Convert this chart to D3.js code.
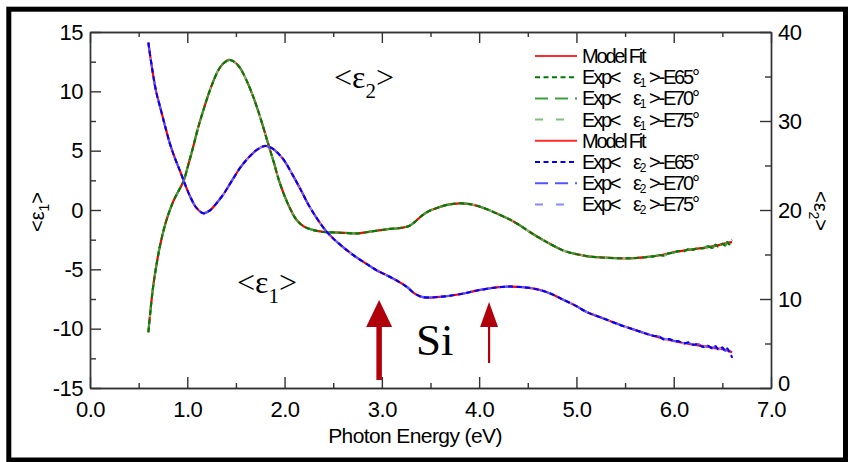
<!DOCTYPE html>
<html><head><meta charset="utf-8">
<script src="https://cdn.jsdelivr.net/npm/d3@7/dist/d3.min.js"></script>
<style>
html,body{margin:0;padding:0;background:#fff;}
svg{display:block;}
.tick text{font-family:"Liberation Sans",Arial,sans-serif;font-size:22px;fill:#000;letter-spacing:-0.5px;}
</style></head>
<body><svg id="c" width="856" height="462"></svg>
<script>
// ---------------- data ----------------
const xTicks = [0,1,2,3,4,5,6,7];
const xMinor = [0.5,1.5,2.5,3.5,4.5,5.5,6.5];
const yLeftTicks = [-15,-10,-5,0,5,10,15];
const yLeftMinor = [-12.5,-7.5,-2.5,2.5,7.5,12.5];
const yRightTicks = [0,10,20,30,40];
const yRightMinor = [5,15,25,35];

// <e1> model fit (left axis): [photon energy eV, value]
const e1Fit = [[0.60,-10.3],[0.62,-8.6],[0.65,-6.4],[0.69,-4.3],[0.72,-3.0],[0.76,-1.6],[0.80,-0.5],[0.86,0.8],[0.91,1.6],[0.96,2.4],[1.01,3.8],[1.06,5.3],[1.11,6.9],[1.165,8.4],[1.22,9.8],[1.27,10.9],[1.32,11.8],[1.37,12.35],[1.43,12.65],[1.48,12.5],[1.54,12.0],[1.61,10.9],[1.68,9.5],[1.75,7.8],[1.82,5.9],[1.89,4.0],[1.95,2.3],[2.03,0.6],[2.12,-0.8],[2.20,-1.4],[2.30,-1.7],[2.40,-1.85],[2.55,-1.9],[2.75,-1.97],[2.90,-1.8],[3.05,-1.63],[3.20,-1.5],[3.28,-1.35],[3.34,-1.0],[3.40,-0.55],[3.47,-0.15],[3.56,0.15],[3.68,0.45],[3.80,0.56],[3.90,0.5],[4.01,0.28],[4.10,0.0],[4.21,-0.4],[4.32,-0.82],[4.42,-1.3],[4.52,-1.85],[4.63,-2.4],[4.75,-2.95],[4.87,-3.43],[5.0,-3.72],[5.10,-3.88],[5.25,-4.0],[5.45,-4.07],[5.6,-4.05],[5.76,-3.93],[5.9,-3.75],[6.03,-3.51],[6.2,-3.3],[6.34,-3.15],[6.45,-2.98],[6.56,-2.75],[6.6,-2.7]];
// <e1> measured tail (noisy part)
const e1ExpTail = [[5.8,-3.9],[5.85,-3.8],[5.9,-3.85],[5.95,-3.65],[6.0,-3.6],[6.05,-3.45],[6.1,-3.5],[6.15,-3.3],[6.2,-3.35],[6.25,-3.2],[6.3,-3.25],[6.35,-3.05],[6.4,-3.2],[6.43,-2.9],[6.46,-3.1],[6.5,-2.85],[6.53,-3.0],[6.55,-2.7],[6.57,-2.9],[6.59,-2.6],[6.6,-2.5]];

// <e2> model fit (right axis)
const e2Fit = [[0.60,38.8],[0.61,38.0],[0.63,36.5],[0.65,35.1],[0.68,33.3],[0.72,31.6],[0.77,29.5],[0.82,27.5],[0.87,25.9],[0.925,24.4],[0.98,22.8],[1.03,21.5],[1.09,20.3],[1.165,19.63],[1.23,19.93],[1.30,20.75],[1.38,21.9],[1.47,23.5],[1.55,24.85],[1.64,26.0],[1.72,26.8],[1.80,27.2],[1.87,26.95],[1.94,26.3],[2.00,25.5],[2.08,24.0],[2.16,22.4],[2.25,20.5],[2.33,19.1],[2.43,17.6],[2.55,16.3],[2.71,14.9],[2.85,13.9],[2.95,13.2],[3.08,12.5],[3.19,11.84],[3.26,11.33],[3.33,10.67],[3.40,10.27],[3.47,10.16],[3.60,10.24],[3.80,10.53],[4.00,11.0],[4.20,11.33],[4.32,11.4],[4.45,11.33],[4.63,11.0],[4.75,10.53],[4.87,9.89],[5.00,9.2],[5.10,8.57],[5.28,7.8],[5.45,7.08],[5.60,6.53],[5.76,5.96],[5.90,5.53],[6.03,5.2],[6.20,4.87],[6.34,4.64],[6.48,4.4],[6.56,4.2],[6.60,4.0]];
const e2ExpTail = [[5.8,5.85],[5.85,5.8],[5.9,5.45],[5.95,5.5],[6.0,5.3],[6.05,5.25],[6.1,5.0],[6.15,5.1],[6.2,4.85],[6.25,4.95],[6.3,4.6],[6.35,4.75],[6.4,4.45],[6.43,4.7],[6.46,4.3],[6.5,4.55],[6.53,4.15],[6.55,4.45],[6.57,4.1],[6.59,3.7],[6.6,3.4]];

const angles = ["65","70","75"];
const greenColors = ["#007a00","#3f9f3f","#80c080"];
const blueColors = ["#0000ff","#5555ff","#8888ff"];
const dashes = ["5,3.5","13,7","8,13"];

// ---------------- drawing ----------------
const svg = d3.select("#c");
const x = d3.scaleLinear([0,7],[90,771]);
const yL = d3.scaleLinear([-15,15],[388,32]);
const yR = d3.scaleLinear([0,40],[388,32]);

svg.append("rect").attr("x",8.8).attr("y",9.2).attr("width",836.7).attr("height",450.8)
  .attr("fill","none").attr("stroke","#000").attr("stroke-width",5);

function styleAxis(g){
  g.selectAll(".domain").attr("stroke","#333").attr("stroke-width",1.4);
  g.selectAll(".tick line").attr("stroke","#333").attr("stroke-width",1.4);
}
// bottom
svg.append("g").attr("transform","translate(0,388)")
  .call(d3.axisBottom(x).tickValues(xTicks).tickSizeInner(-11).tickSizeOuter(0).tickPadding(13).tickFormat(d3.format(".1f")))
  .call(styleAxis);
svg.append("g").attr("transform","translate(0,388)")
  .call(d3.axisBottom(x).tickValues(xMinor).tickSizeInner(-5).tickSizeOuter(0).tickFormat(""))
  .call(styleAxis);
// top
svg.append("g").attr("transform","translate(0,32)")
  .call(d3.axisTop(x).tickValues(xTicks).tickSizeInner(-11).tickSizeOuter(0).tickFormat(""))
  .call(styleAxis);
svg.append("g").attr("transform","translate(0,32)")
  .call(d3.axisTop(x).tickValues(xMinor).tickSizeInner(-5).tickSizeOuter(0).tickFormat(""))
  .call(styleAxis);
// left
svg.append("g").attr("transform","translate(90,0)")
  .call(d3.axisLeft(yL).tickValues(yLeftTicks).tickSizeInner(-11).tickSizeOuter(0).tickPadding(7).tickFormat(d=>String(d)))
  .call(styleAxis);
svg.append("g").attr("transform","translate(90,0)")
  .call(d3.axisLeft(yL).tickValues(yLeftMinor).tickSizeInner(-6).tickSizeOuter(0).tickFormat(""))
  .call(styleAxis);
// right
svg.append("g").attr("transform","translate(771,0)")
  .call(d3.axisRight(yR).tickValues(yRightTicks).tickSizeInner(-11).tickSizeOuter(0).tickPadding(7).tickFormat(d=>String(d)))
  .call(styleAxis);
svg.append("g").attr("transform","translate(771,0)")
  .call(d3.axisRight(yR).tickValues(yRightMinor).tickSizeInner(-6).tickSizeOuter(0).tickFormat(""))
  .call(styleAxis);
// pull the bottom-right "0" a little up so it clears "7.0" as in the reference
svg.selectAll("g").filter(function(){return this.getAttribute("transform")==="translate(771,0)";})
  .selectAll(".tick").filter(d=>d===0).select("text").attr("dy","0.1em");

// axis titles
const sans = "'Liberation Sans',Arial,sans-serif";
svg.append("text").attr("x",415).attr("y",443).attr("text-anchor","middle")
  .attr("font-family",sans).attr("font-size",21).attr("letter-spacing","-0.6px").text("Photon Energy (eV)");
function epsTitle(tx, ty, rot, sub){
  const el = svg.append("text").attr("transform",`translate(${tx},${ty}) rotate(${rot})`)
    .attr("text-anchor","middle").attr("font-family",sans).attr("font-size",20).attr("dy","0.35em");
  el.append("tspan").text("<\u03b5");
  el.append("tspan").attr("font-size",14).attr("dy",5).text(sub);
  el.append("tspan").attr("dy",-5).text(">");
}
epsTitle(37,212,-90,"1");
epsTitle(821,211,90,"2");

// curves
const lineL = d3.line().x(d=>x(d[0])).y(d=>yL(d[1])).curve(d3.curveCatmullRom.alpha(0.5));
const lineR = d3.line().x(d=>x(d[0])).y(d=>yR(d[1])).curve(d3.curveCatmullRom.alpha(0.5));
const e1Exp = e1Fit.filter(d=>d[0]<5.8).concat(e1ExpTail);
const e2Exp = e2Fit.filter(d=>d[0]<5.8).concat(e2ExpTail);
const order = [2,1,0]; // lightest underneath, darkest on top

svg.append("path").datum(e1Fit).attr("d",lineL).attr("fill","none").attr("stroke","#ff0000").attr("stroke-width",2.2);
order.forEach(i=>{
  svg.append("path").datum(e1Exp).attr("d",lineL).attr("fill","none")
    .attr("stroke",greenColors[i]).attr("stroke-width",2).attr("stroke-dasharray",dashes[i]).attr("stroke-dashoffset",i*3);
});
svg.append("path").datum(e2Fit).attr("d",lineR).attr("fill","none").attr("stroke","#ff0000").attr("stroke-width",2.2);
order.forEach(i=>{
  svg.append("path").datum(e2Exp).attr("d",lineR).attr("fill","none")
    .attr("stroke",blueColors[i]).attr("stroke-width",2).attr("stroke-dasharray",dashes[i]).attr("stroke-dashoffset",i*3);
});

// legend
const legendRows = [
  {kind:"fit", color:"#ff2a2a", dash:null},
  ...angles.map((a,i)=>({kind:"exp", sub:"1", angle:a, color:greenColors[i], dash:dashes[i]})),
  {kind:"fit", color:"#ff2a2a", dash:null},
  ...angles.map((a,i)=>({kind:"exp", sub:"2", angle:a, color:blueColors[i], dash:dashes[i]}))
];
const lg = svg.append("g");
legendRows.forEach((r,i)=>{
  const y = 56 + i*21.2;
  lg.append("line").attr("x1",535).attr("x2",577).attr("y1",y).attr("y2",y)
    .attr("stroke",r.color).attr("stroke-width",2).attr("stroke-dasharray",r.dash);
  const t = lg.append("text").attr("x",582).attr("y",y+7).attr("font-family",sans)
    .attr("font-size",20).attr("letter-spacing","-2.2px");
  if(r.kind==="fit"){ t.text("Model Fit"); }
  else{
    t.append("tspan").text("Exp<");
    t.append("tspan").attr("x",633).text("\u03b5");
    t.append("tspan").attr("font-size",12).attr("dy",3).text(r.sub);
    t.append("tspan").attr("x",649).attr("dy",-3).text(">-E"+r.angle+"\u00b0");
  }
});

// annotations
const serif = "'Liberation Serif','Times New Roman',serif";
function serifEps(tx, ty, sub){
  const el = svg.append("text").attr("x",tx).attr("y",ty).attr("font-family",serif).attr("font-size",32);
  el.append("tspan").text("<\u03b5");
  el.append("tspan").attr("font-size",21).attr("dy",10).text(sub);
  el.append("tspan").attr("dy",-10).text(">");
}
serifEps(334,88,"2");
serifEps(237,293,"1");
svg.append("text").attr("x",416).attr("y",355).attr("font-family",serif).attr("font-size",45).text("Si");

// arrows (anchored on energy axis)
const arrowColor = "#b0000c";
function arrow(e, yTip, yBottom, headW, headH, shaftW){
  const cx = x(e);
  svg.append("rect").attr("x",cx-shaftW/2).attr("y",yTip+headH-1).attr("width",shaftW).attr("height",yBottom-yTip-headH+1).attr("fill",arrowColor);
  svg.append("path").attr("d",`M${cx},${yTip} L${cx+headW/2},${yTip+headH} L${cx-headW/2},${yTip+headH} Z`).attr("fill",arrowColor);
}
arrow(2.972, 300, 380, 26, 27, 5.5);
arrow(4.102, 302, 363, 18, 25, 2.2);
</script></body></html>
